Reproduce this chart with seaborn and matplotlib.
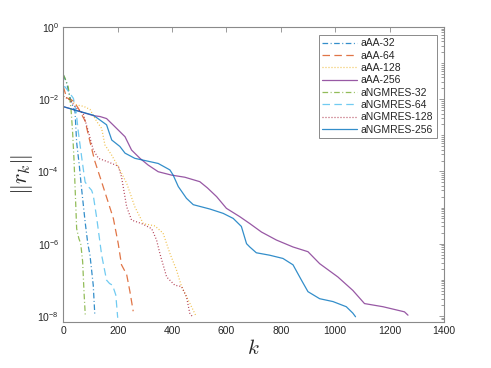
import numpy as np
import pandas as pd
import matplotlib
matplotlib.use('Agg')
import matplotlib.pyplot as plt
import matplotlib.ticker as mticker
import seaborn as sns

# residual histories (k = iteration, r = ||r_k||)
k_aa32 = [0, 12, 25, 35, 43, 49, 59, 66, 80, 90, 98, 110, 116]
r_aa32 = [4.7e-2, 2.8e-2, 1.1e-2, 6.3e-3, 4.5e-3, 6.3e-4, 1.4e-4, 4.0e-5, 4.1e-6, 1.0e-6,
          4.8e-7, 7.1e-8, 1.0e-8]

k_aa64 = [0, 12, 37, 55, 80, 98, 116, 141, 165, 184, 202, 214, 233, 245, 257]
r_aa64 = [2.2e-2, 1.1e-2, 8.9e-3, 5.6e-3, 2.5e-3, 6.6e-4, 1.9e-4, 5.1e-5, 1.4e-5, 5.0e-6,
          1.0e-6, 2.6e-7, 1.4e-7, 4.7e-8, 1.35e-8]

k_aa128 = [0, 20, 49, 75, 98, 123, 141, 153, 178, 202, 233, 263, 294, 337, 367, 392, 416,
           435, 459, 488]
r_aa128 = [1.2e-2, 1.0e-2, 6.9e-3, 6.3e-3, 5.2e-3, 2.4e-3, 1.55e-3, 5.4e-4, 2.8e-4, 1.35e-4,
           4.7e-5, 1.05e-5, 3.6e-6, 3.1e-6, 1.95e-6, 5.4e-7, 1.9e-7, 6.5e-8, 2.8e-8, 1.0e-8]

k_aa256 = [0, 50, 110, 135, 159, 184, 208, 227, 251, 282, 312, 349, 398, 447, 502, 530, 564,
           600, 649, 686, 729, 784, 845, 900, 943, 1010, 1065, 1108, 1176, 1255, 1268]
r_aa256 = [6.2e-3, 4.8e-3, 3.5e-3, 3.3e-3, 2.9e-3, 1.9e-3, 1.26e-3, 9.1e-4, 3.9e-4, 2.3e-4,
           1.5e-4, 9.8e-5, 7.9e-5, 6.9e-5, 5.2e-5, 3.5e-5, 2.0e-5, 9.5e-6, 5.6e-6, 3.6e-6,
           2.1e-6, 1.26e-6, 8.1e-7, 6.0e-7, 2.8e-7, 1.2e-7, 5.1e-8, 2.2e-8, 1.8e-8, 1.3e-8,
           1.05e-8]

k_ng32 = [0, 5, 18, 28, 34, 39, 43, 49, 57, 64, 71, 76, 81]
r_ng32 = [4.7e-2, 4.0e-2, 2.2e-2, 5.6e-3, 1.26e-3, 2.3e-4, 4.0e-5, 2.6e-6, 1.4e-6, 1.0e-6,
          3.2e-7, 4.7e-8, 9.5e-9]

k_ng64 = [0, 6, 20, 37, 47, 55, 68, 80, 92, 104, 110, 123, 141, 159, 170, 181, 193, 200]
r_ng64 = [2.2e-2, 2.2e-2, 1.6e-2, 1.05e-2, 4.5e-3, 1.26e-3, 2.3e-4, 5.1e-5, 3.8e-5, 3.0e-5,
          2.2e-5, 5.0e-6, 4.8e-7, 9.8e-8, 7.9e-8, 7.1e-8, 3.8e-8, 8.9e-9]

k_ng128 = [0, 20, 49, 73, 92, 110, 129, 159, 202, 214, 233, 251, 288, 325, 343, 355, 380,
           410, 435, 453, 465, 475]
r_ng128 = [1.2e-2, 1.0e-2, 5.6e-3, 4.0e-3, 1.26e-3, 4.0e-4, 2.3e-4, 1.9e-4, 1.4e-4, 7.1e-5,
           1.05e-5, 4.5e-6, 3.6e-6, 2.6e-6, 1.26e-6, 5.4e-7, 1.2e-7, 7.1e-8, 6.5e-8, 3.4e-8,
           1.2e-8, 9.5e-9]

k_ng256 = [0, 50, 110, 159, 178, 208, 227, 263, 300, 349, 392, 404, 423, 453, 478, 539, 588,
           625, 655, 674, 686, 710, 759, 808, 845, 876, 900, 943, 992, 1041, 1065, 1075]
r_ng256 = [6.2e-3, 4.8e-3, 3.6e-3, 1.95e-3, 7.4e-4, 4.9e-4, 3.2e-4, 2.3e-4, 2.0e-4, 1.66e-4,
           1.1e-4, 7.9e-5, 3.8e-5, 1.8e-5, 1.2e-5, 9.1e-6, 6.9e-6, 5.0e-6, 3.0e-6, 1.0e-6,
           8.1e-7, 5.6e-7, 4.8e-7, 3.9e-7, 2.6e-7, 9.8e-8, 4.7e-8, 3.0e-8, 2.5e-8, 1.8e-8,
           1.2e-8, 9.5e-9]

names = ['aAA-32', 'aAA-64', 'aAA-128', 'aAA-256',
         'aNGMRES-32', 'aNGMRES-64', 'aNGMRES-128', 'aNGMRES-256']
series = {
    'aAA-32': (k_aa32, r_aa32), 'aAA-64': (k_aa64, r_aa64),
    'aAA-128': (k_aa128, r_aa128), 'aAA-256': (k_aa256, r_aa256),
    'aNGMRES-32': (k_ng32, r_ng32), 'aNGMRES-64': (k_ng64, r_ng64),
    'aNGMRES-128': (k_ng128, r_ng128), 'aNGMRES-256': (k_ng256, r_ng256),
}

# matlab default colour order
colors = {'aAA-32': '#0072BD', 'aAA-64': '#D95319', 'aAA-128': '#EDB120', 'aAA-256': '#7E2F8E',
          'aNGMRES-32': '#77AC30', 'aNGMRES-64': '#4DBEEE', 'aNGMRES-128': '#A2142F',
          'aNGMRES-256': '#0072BD'}
dashdot = (0, (4.5, 2, 0.8, 2))
dashed = (0, (6, 3.5))
dotted = (0, (0.8, 1.6))
styles = {'aAA-32': dashdot, 'aAA-64': dashed, 'aAA-128': dotted, 'aAA-256': '-',
          'aNGMRES-32': dashdot, 'aNGMRES-64': dashed, 'aNGMRES-128': dotted, 'aNGMRES-256': '-'}

frames = []
for name in names:
    kk, rr = series[name]
    frames.append(pd.DataFrame({'k': kk, 'r': rr, 'method': name}))
df = pd.concat(frames, ignore_index=True)

sns.set_theme(style='white')
plt.rcParams['font.family'] = ['Liberation Sans', 'DejaVu Sans']
plt.rcParams['mathtext.fontset'] = 'cm'

fig = plt.figure(figsize=(4.91, 3.68), dpi=100)
ax = fig.add_axes([0.129, 0.125, 0.775, 0.802])

for name in names:
    sub = df[df['method'] == name]
    sns.lineplot(data=sub, x='k', y='r', ax=ax, color=colors[name], linestyle=styles[name],
                 linewidth=0.9, alpha=0.8, label=name, sort=False, estimator=None)

ax.set_yscale('log')
ax.set_xlim(0, 1400)
ax.set_ylim(6.8e-9, 1)
ax.set_xticks(np.arange(0, 1401, 200))
ax.yaxis.set_major_locator(mticker.FixedLocator([1e-8, 1e-6, 1e-4, 1e-2, 1]))
ax.yaxis.set_minor_locator(mticker.LogLocator(base=10, subs=np.arange(1, 10), numticks=20))
ax.yaxis.set_minor_formatter(mticker.NullFormatter())

for sp in ax.spines.values():
    sp.set_color('#8a8a8a')
    sp.set_linewidth(0.8)
ax.tick_params(which='both', direction='in', top=True, right=True, colors='#8a8a8a',
               labelcolor='#262626', labelsize=7.5, width=0.6)
ax.tick_params(which='major', length=3.5, pad=3)
ax.tick_params(which='minor', length=2)

ax.set_xlabel(r'$k$', fontsize=15, color='#262626', labelpad=2)
ax.set_ylabel(r'$\|r_k\|$', fontsize=16, color='#262626', labelpad=2)

leg = ax.legend(loc='upper right', bbox_to_anchor=(0.982, 0.973), borderaxespad=0,
                fontsize=7.5, handlelength=3.3, labelspacing=0.22, handletextpad=0.4,
                borderpad=0.35, fancybox=False, framealpha=1, edgecolor='#8a8a8a')
leg.get_frame().set_linewidth(0.7)
for t in leg.get_texts():
    t.set_color('#262626')

fig.savefig('out.png', dpi=100)
